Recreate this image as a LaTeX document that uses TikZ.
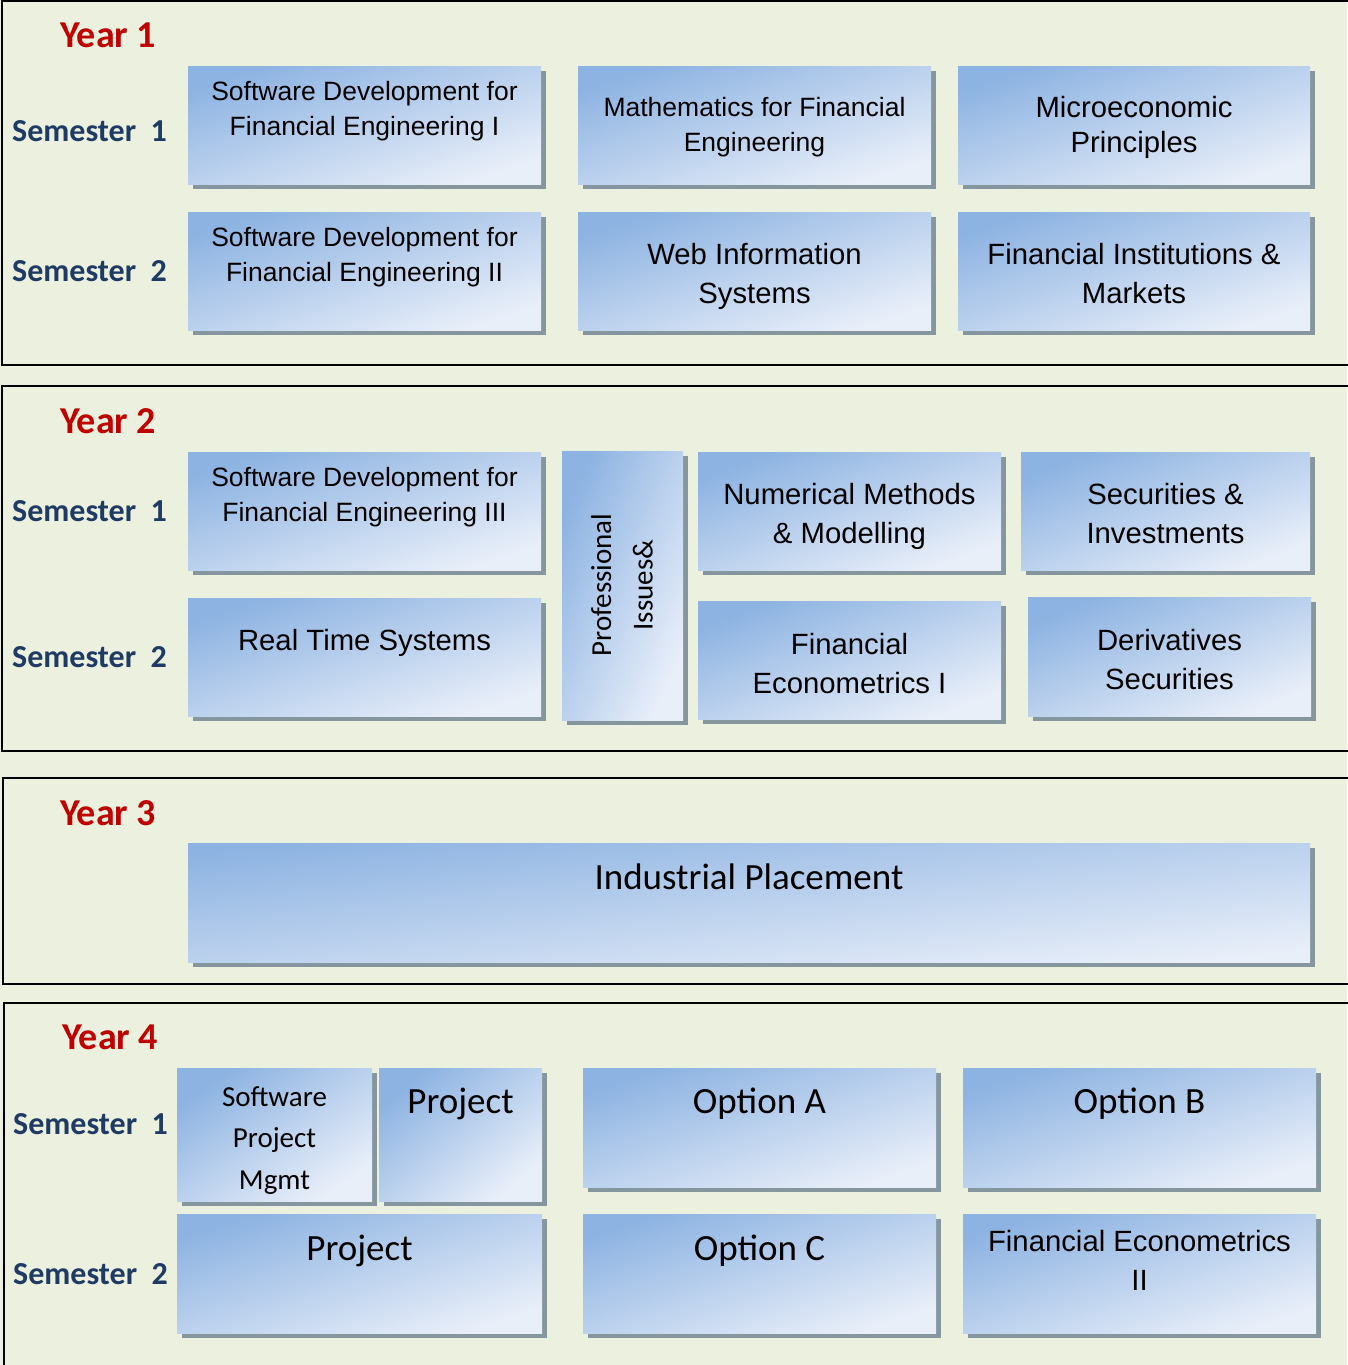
\documentclass[tikz,border=0pt]{standalone}
\usepackage{fontspec}
\setmainfont{Liberation Sans}
\newfontfamily\calibri{Carlito}
\usetikzlibrary{fit, shadows}

\definecolor{pagegreen}{RGB}{235,241,222}
\definecolor{boxtop}{RGB}{141,179,226}
\definecolor{boxbot}{RGB}{233,239,249}
\definecolor{shadowgrey}{RGB}{133,150,158}
\definecolor{yearred}{RGB}{192,0,0}
\definecolor{semblue}{RGB}{31,58,99}

\begin{document}
\begin{tikzpicture}[x=1pt, y=-1pt,
  panel/.style={draw=black, line width=2.2pt},
  % shading angle follows the box diagonal
  course/.style={inner sep=0pt, outer sep=0pt, top color=boxtop, bottom color=boxbot,
    shading angle=#1,
    drop shadow={shadow xshift=5pt, shadow yshift=-5pt, fill=shadowgrey, opacity=1}},
  course/.default=18.5,
  small/.style={align=center, font=\fontsize{26.5}{35}\selectfont},
  big/.style={align=center, font=\fontsize{29.3}{39}\selectfont},
  cal/.style={align=center, font=\calibri\fontsize{37}{44}\selectfont},
  calsmall/.style={align=center, font=\calibri\fontsize{29}{41.5}\selectfont},
  year/.style={anchor=west, inner sep=0pt, text=yearred, font=\calibri\bfseries\fontsize{38}{42}\selectfont},
  sem/.style={anchor=west, inner sep=0pt, text=semblue, font=\calibri\bfseries\fontsize{32}{36}\selectfont}]
\useasboundingbox (0,0) rectangle (1347,1365);
\fill[pagegreen] (0,0) rectangle (1347,1365);
% Year panels, open to the right
\draw[panel] (2,1) rectangle (1370,365);
\draw[panel] (2,386) rectangle (1370,751);
\draw[panel] (3,778) rectangle (1370,984);
\draw[panel] (4,1003) rectangle (1370,1390);
% Year 1
\node[year] (year1) at (60,35) {Year 1};
\node[sem] (y1s1) at (12,131) {Semester~~1};
\node[sem] (y1s2) at (12,271) {Semester~~2};
\node[course, fit={(188,66) (541,184)}] (y1a) {};
\node[small] (t1a) at (364.5,111.5) {Software Development for\\Financial Engineering I};
\node[course, fit={(578,66) (931,184)}] (y1b) {};
\node[small] (t1b) at (754.5,127.5) {Mathematics for Financial\\Engineering};
\node[course, fit={(958,66) (1310,184)}] (y1c) {};
\node[big] (t1c) at (1134,127.5) {Microeconomic\\[-4pt]Principles};
\node[course, fit={(188,212) (541,330)}] (y1d) {};
\node[small] (t1d) at (364.5,257.5) {Software Development for\\Financial Engineering II};
\node[course, fit={(578,212) (931,330)}] (y1e) {};
\node[big] (t1e) at (754.5,276.5) {Web Information\\Systems};
\node[course, fit={(958,212) (1310,330)}] (y1f) {};
\node[big] (t1f) at (1134,273.5) {Financial Institutions \&\\Markets};
% Year 2
\node[year] (year2) at (60,421) {Year 2};
\node[sem] (y2s1) at (12,511) {Semester~~1};
\node[sem] (y2s2) at (12,657) {Semester~~2};
\node[course, fit={(188,452) (541,570)}] (y2a) {};
\node[small] (t2a) at (364.5,497.5) {Software Development for\\Financial Engineering III};
\node[course=65.8, fit={(562,451) (683,720)}] (y2b) {};
\node[calsmall, rotate=90] (t2b) at (622,585) {Professional\\Issues\&};
\node[course=21.3, fit={(698,452) (1001,570)}] (y2c) {};
\node[big] (t2c) at (849.5,516.5) {Numerical Methods\\\& Modelling};
\node[course=22.2, fit={(1021,452) (1310,570)}] (y2d) {};
\node[big] (t2d) at (1165.5,513.5) {Securities \&\\Investments};
\node[course, fit={(188,598) (541,716)}] (y2e) {};
\node[big] (t2e) at (364.5,643) {Real Time Systems};
\node[course=21.3, fit={(698,601) (1001,719)}] (y2f) {};
\node[big] (t2f) at (849.5,663.5) {Financial\\Econometrics I};
\node[course=22.8, fit={(1028,597) (1311,716)}] (y2g) {};
\node[big] (t2g) at (1169.5,659.5) {Derivatives\\Securities};
% Year 3
\node[year] (year3) at (60,813) {Year 3};
\node[course=6, fit={(188,843) (1310,962)}] (y3a) {};
\node[cal] (t3a) at (749,877) {Industrial Placement};
% Year 4
\node[year] (year4) at (62,1037) {Year 4};
\node[sem] (y4s1) at (13,1124) {Semester~~1};
\node[sem] (y4s2) at (13,1274) {Semester~~2};
\node[course=34.3, fit={(177,1068) (372,1201)}] (y4a) {};
\node[calsmall] (t4a) at (274.5,1140.5) {Software\\Project\\Mgmt};
\node[course=39.2, fit={(379,1068) (542,1201)}] (y4b) {};
\node[cal] (t4b) at (460.5,1104) {Project};
\node[course, fit={(583,1068) (936,1187)}] (y4c) {};
\node[cal] (t4c) at (759.5,1104) {Option A};
\node[course, fit={(963,1068) (1316,1187)}] (y4d) {};
\node[cal] (t4d) at (1139.5,1104) {Option B};
\node[course=18, fit={(177,1214) (542,1333)}] (y4e) {};
\node[cal] (t4e) at (359.5,1251) {Project};
\node[course, fit={(583,1214) (936,1333)}] (y4f) {};
\node[cal] (t4f) at (759.5,1251) {Option C};
\node[course, fit={(963,1214) (1316,1333)}] (y4g) {};
\node[big] (t4g) at (1139.5,1260.5) {Financial Econometrics\\II};
\end{tikzpicture}
\end{document}
